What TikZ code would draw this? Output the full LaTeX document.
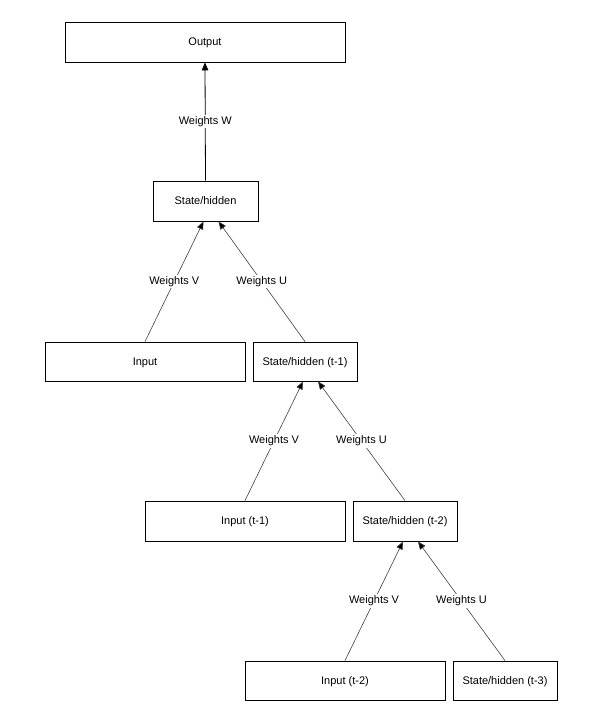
\documentclass[tikz,border=0pt]{standalone}
\usepackage{fontspec}
\setmainfont{Liberation Sans}
\usetikzlibrary{arrows.meta,calc}
\begin{document}
\begin{tikzpicture}[x=1pt,y=-1pt,
  box/.style={draw=black,line width=0.8pt,inner sep=0pt,text depth=0pt,font=\fontsize{11}{13}\selectfont},
  conn/.style={draw=black!75,line width=0.6pt,-{Triangle[length=8pt,width=6.5pt,fill=black]}},
  vconn/.style={draw=black,line width=0.8pt,-{Triangle[length=8pt,width=6.5pt]}},
  lab/.style={fill=white,inner sep=1.5pt,font=\fontsize{11}{13}\selectfont,pos=0.5}]
\useasboundingbox[fill=white] (0,0) rectangle (595,724);
\node[box,minimum width=280pt,minimum height=40pt] (out) at (205,42) {Output};
\node[box,minimum width=105pt,minimum height=40pt] (sh0) at (205.5,201) {State/hidden};
\node[box,minimum width=200pt,minimum height=39pt] (in0) at (145,361.5) {Input};
\node[box,minimum width=104pt,minimum height=39pt] (sh1) at (305,361.5) {State/hidden (t-1)};
\node[box,minimum width=200pt,minimum height=40pt] (in1) at (245,521) {Input (t-1)};
\node[box,minimum width=104pt,minimum height=40pt] (sh2) at (405,521) {State/hidden (t-2)};
\node[box,minimum width=200pt,minimum height=39pt] (in2) at (345,680.5) {Input (t-2)};
\node[box,minimum width=104pt,minimum height=39pt] (sh3) at (505,680.5) {State/hidden (t-3)};

\draw[vconn] (sh0.north) -- node[lab]{Weights W} (out.south);
\draw[conn] (in0.north) -- node[lab]{Weights V} ($(sh0.south)+(-2,0)$);
\draw[conn] (sh1.north) -- node[lab]{Weights U} ($(sh0.south)+(13,0)$);
\draw[conn] (in1.north) -- node[lab]{Weights V} ($(sh1.south)+(-2,0)$);
\draw[conn] (sh2.north) -- node[lab]{Weights U} ($(sh1.south)+(13,0)$);
\draw[conn] (in2.north) -- node[lab]{Weights V} ($(sh2.south)+(-2,0)$);
\draw[conn] (sh3.north) -- node[lab]{Weights U} ($(sh2.south)+(13,0)$);
\end{tikzpicture}
\end{document}
